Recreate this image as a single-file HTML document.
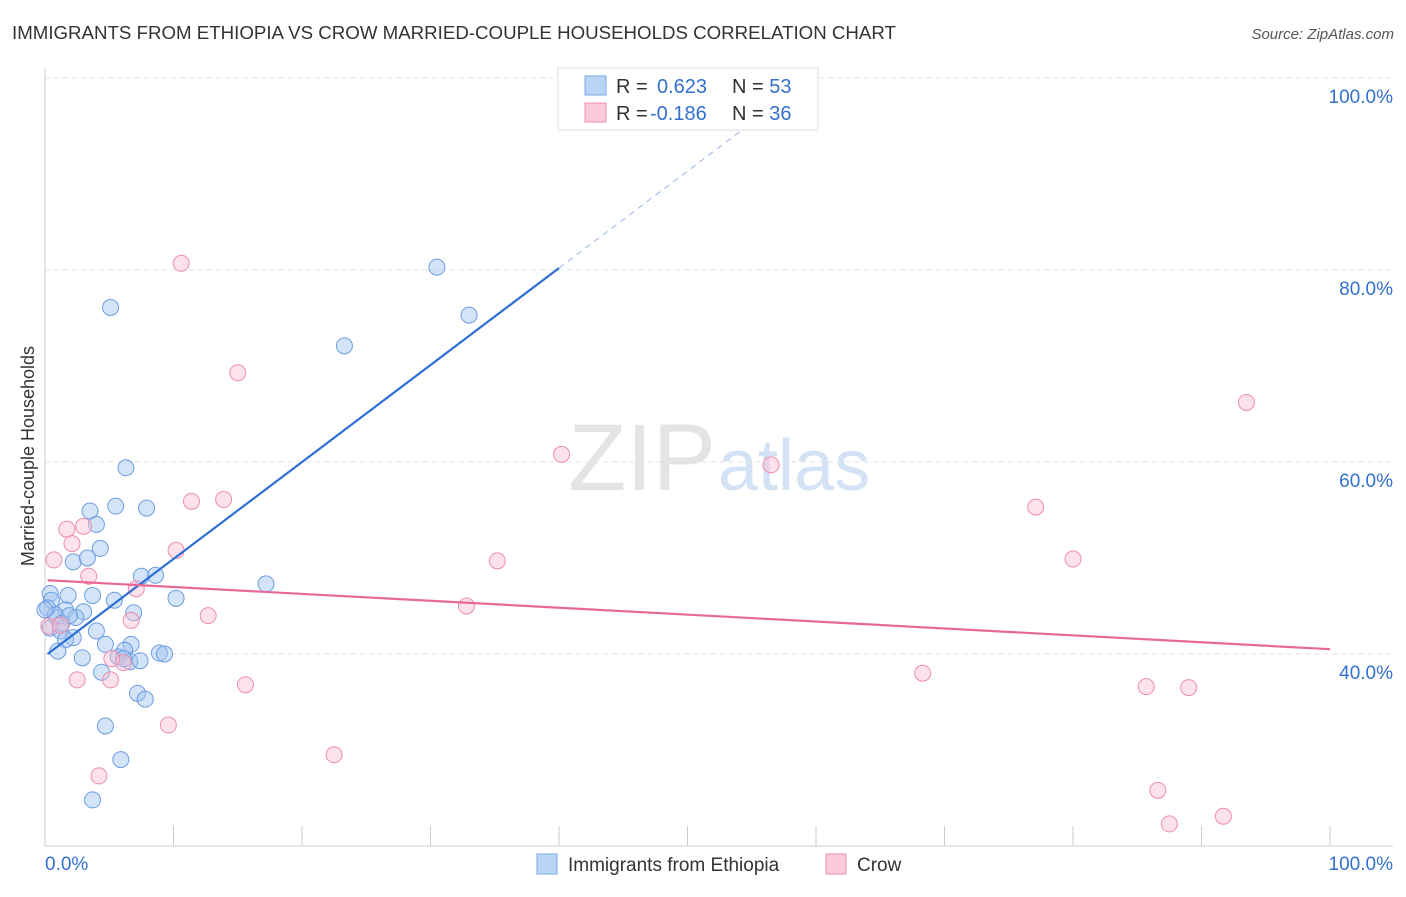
<!DOCTYPE html>
<html><head><meta charset="utf-8"><style>
body{margin:0;background:#fff;font-family:"Liberation Sans",sans-serif;}
svg text{font-family:"Liberation Sans",sans-serif;}
</style></head><body>
<svg id="c" width="1406" height="892">
<text x="12" y="39" font-size="18.7" fill="#333">IMMIGRANTS FROM ETHIOPIA VS CROW MARRIED-COUPLE HOUSEHOLDS CORRELATION CHART</text>
<text x="1394" y="39" font-size="15" fill="#555" font-style="italic" text-anchor="end">Source: ZipAtlas.com</text>
<text x="716" y="490" font-size="95" fill="#e4e4e4" text-anchor="end" font-family="Liberation Serif">ZIP</text>
<text x="718" y="490" font-size="72" fill="#d3e2f4">atlas</text>
<text transform="translate(34,456) rotate(-90)" font-size="18" fill="#333" text-anchor="middle">Married-couple Households</text>
<g id="grid"></g><g id="marks"></g>
<g>
<rect x="558" y="68" width="260" height="62" fill="#fff" stroke="#ddd"/>
<rect x="585" y="76" width="21" height="19" fill="#b9d3f5" stroke="#7aa8e8"/>
<rect x="585" y="103" width="21" height="19" fill="#fbcad8" stroke="#f08fae"/>
<text x="616" y="93" font-size="20" fill="#333">R = <tspan fill="#3470d0" x="657">0.623</tspan><tspan fill="#333" x="732">N = </tspan><tspan fill="#3470d0">53</tspan></text>
<text x="616" y="120" font-size="20" fill="#333">R = <tspan fill="#3470d0" x="650">-0.186</tspan><tspan fill="#333" x="732">N = </tspan><tspan fill="#3470d0">36</tspan></text>
</g>
<g>
<rect x="537" y="854" width="20" height="20" fill="#b9d3f5" stroke="#7aa8e8"/>
<text x="568" y="871" font-size="19" fill="#333">Immigrants from Ethiopia</text>
<rect x="826" y="854" width="20" height="20" fill="#fbcad8" stroke="#f08fae"/>
<text x="857" y="871" font-size="19" fill="#333">Crow</text>
</g>
</svg>
<script>
const yTicks=[40,60,80,100];
const xTickLabels=["0.0%","100.0%"];
const blueX=[5.1,30.5,33,23.3,6.3,5.5,7.9,3.5,4,4.3,2.2,3.3,7.5,8.6,17.2,10.2,0.4,0.5,1.8,3.7,5.4,1.6,3,2.4,6.9,0.9,0.4,1.2,4,2.2,1.6,4.7,6.7,1,6.2,8.9,9.3,2.9,5.7,6.6,7.4,6.1,4.4,7.2,7.8,4.7,5.9,3.7,0.2,0.8,1.3,1.9,0];
const blueY=[76.1,80.3,75.3,72.1,59.4,55.4,55.2,54.9,53.5,51,49.6,50,48.1,48.2,47.3,45.8,46.3,45.6,46.1,46.1,45.6,44.6,44.4,43.8,44.3,43.8,42.7,42.4,42.4,41.7,41.5,41,41,40.3,40.4,40.1,40,39.6,39.7,39.2,39.3,39.5,38.1,35.9,35.3,32.5,29,24.8,44.8,44.1,43.2,44,44.6];
const pinkX=[10.6,15,93.5,40.2,56.5,11.4,13.9,77.1,1.7,3,2.1,10.2,0.7,35.2,80,3.4,7.1,32.8,12.7,6.7,0.3,6.1,5.1,2.5,68.3,15.6,85.7,89,9.6,22.5,4.2,86.6,87.5,91.7,1.2,5.2];
const pinkY=[80.7,69.3,66.2,60.8,59.7,55.9,56.1,55.3,53,53.3,51.5,50.8,49.8,49.7,49.9,48.1,46.8,45,44,43.5,42.9,39.1,37.3,37.3,38,36.8,36.6,36.5,32.6,29.5,27.3,25.8,22.3,23.1,43.0,39.5];
const blueFit=[39.8,1.01], pinkFit=[47.7,-0.072];
const X=v=>45+v*12.85, Y=v=>1038-v*9.6;
const ns="http://www.w3.org/2000/svg";
function mk(p,t,a){const e=document.createElementNS(ns,t);for(const k in a)e.setAttribute(k,a[k]);p.appendChild(e);return e;}
const g=document.getElementById('grid'),m=document.getElementById('marks');
yTicks.forEach(t=>{
 const l=mk(g,'line',{x1:45,y1:Y(t),x2:1393,y2:Y(t),stroke:'#e3e3e3','stroke-dasharray':'5,4'});
 
 
 const tx=mk(g,'text',{x:1393,y:Y(t)+25,'font-size':19,fill:'#3470d0','text-anchor':'end'});tx.textContent=t+'.0%';
 
 
});
mk(g,'line',{x1:45,y1:68,x2:45,y2:846,stroke:'#ccc'});
mk(g,'line',{x1:45,y1:846,x2:1393,y2:846,stroke:'#ccc'});
for(let i=0;i<=10;i++)mk(g,'line',{x1:X(i*10),y1:826,x2:X(i*10),y2:846,stroke:'#ccc'});
let a=mk(g,'text',{x:45,y:870,'font-size':19,fill:'#3470d0'});a.textContent=xTickLabels[0];


a=mk(g,'text',{x:1393,y:870,'font-size':19,fill:'#3470d0','text-anchor':'end'});a.textContent=xTickLabels[1];


blueX.forEach((v,i)=>{const c=mk(m,'circle',{cx:X(v),cy:Y(blueY[i]),r:8,fill:'rgba(160,195,240,0.45)',stroke:'#6c9de0','stroke-width':1});
 
 });
pinkX.forEach((v,i)=>{const c=mk(m,'circle',{cx:X(v),cy:Y(pinkY[i]),r:8,fill:'rgba(250,190,210,0.45)',stroke:'#ec8eae','stroke-width':1});
 
 });
let l=mk(m,'line',{x1:X(0.2),y1:Y(blueFit[0]+blueFit[1]*0.2),x2:X(40),y2:Y(blueFit[0]+blueFit[1]*40),stroke:'#2e6fd6','stroke-width':2.2});


l=mk(m,'line',{x1:X(40),y1:Y(blueFit[0]+blueFit[1]*40),x2:X(57),y2:Y(blueFit[0]+blueFit[1]*57),stroke:'#9bb8e6','stroke-width':1,'stroke-dasharray':'6,5'});


l=mk(m,'line',{x1:X(0.2),y1:Y(pinkFit[0]+pinkFit[1]*0.2),x2:X(100),y2:Y(pinkFit[0]+pinkFit[1]*100),stroke:'#e8689a','stroke-width':2.2});


</script>
</body></html>
